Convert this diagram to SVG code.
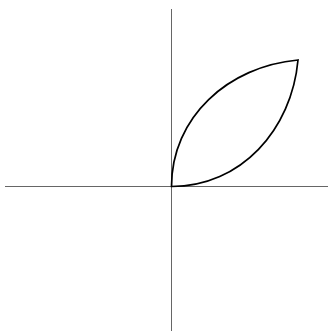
<svg xmlns="http://www.w3.org/2000/svg" width="328" height="331" viewBox="0 0 328 331">
<style>
.axis{stroke:#666;stroke-width:1;fill:none}
.leaf{stroke:#000;stroke-width:1.7;fill:none;stroke-linejoin:miter}
</style>
<rect width="328" height="331" fill="#fff"/>
<g id="axes">
<line class="axis" x1="171.5" y1="9" x2="171.5" y2="331"/>
<line class="axis" x1="5" y1="186.5" x2="328" y2="186.5"/>
</g>
<g id="leaf">
<path class="leaf" d="M171.5,186.5 C171.5,117 228.4,66.3 298,60 C291.7,129.6 241.1,186.5 171.5,186.5 Z"/>
</g>
</svg>
